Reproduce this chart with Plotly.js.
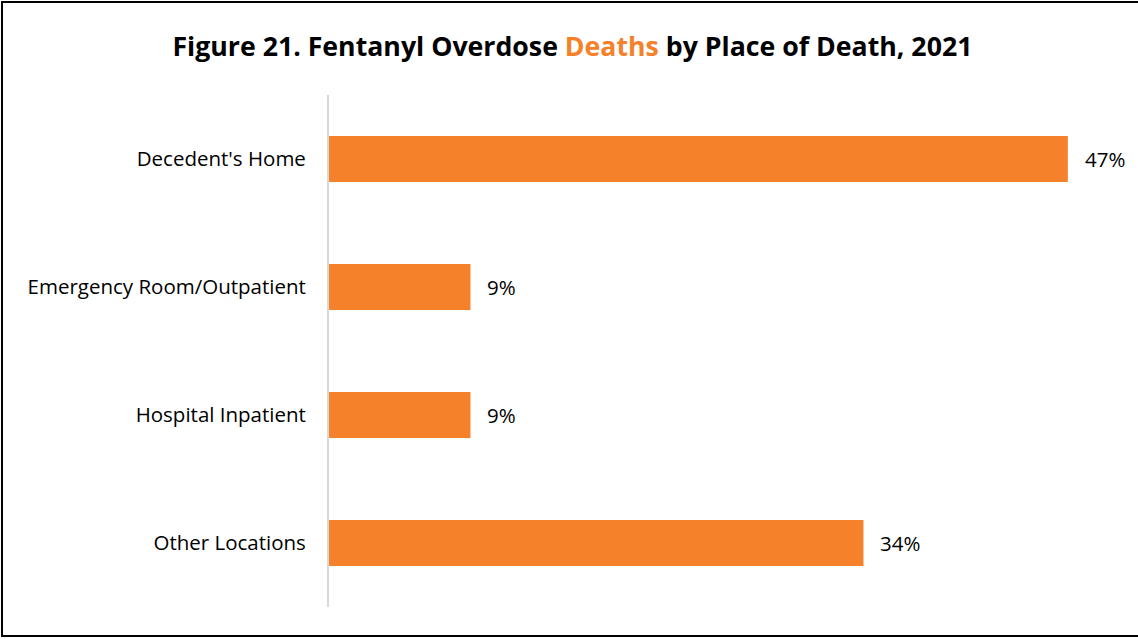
<!DOCTYPE html>
<html>
<head>
<meta charset="utf-8">
<script src="https://cdn.plot.ly/plotly-3.0.1.min.js"></script>
<style>
html,body{margin:0;padding:0;background:#fff;overflow:hidden;}
#wrap{position:relative;width:1138px;height:639px;overflow:hidden;}
#chart{width:1138px;height:639px;}
.ln{position:absolute;background:#000;pointer-events:none;}
</style>
</head>
<body>
<div id="wrap">
  <div id="chart"></div>
  <div class="ln" style="left:1px;top:1px;width:2px;height:636px;"></div>
  <div class="ln" style="left:1px;top:1px;width:1137px;height:2px;"></div>
  <div class="ln" style="left:1px;top:635px;width:1137px;height:2px;"></div>
</div>
<script>
const categories = ["Decedent's Home", "Emergency Room/Outpatient", "Hospital Inpatient", "Other Locations"];
const values = [47, 9, 9, 34];
const valueLabels = ["47%", "9%", "9%", "34%"];

const FONT = "Open Sans, Noto Sans, sans-serif";
const ORANGE = "#f5812b";

const trace = {
  type: 'bar',
  orientation: 'h',
  y: categories,
  x: values,
  marker: {color: ORANGE},
  hoverinfo: 'skip'
};

const annotations = categories.map((c, i) => ({
  x: values[i], y: c, xref: 'x', yref: 'y',
  text: valueLabels[i], showarrow: false,
  xanchor: 'left', xshift: 15,
  font: {family: FONT, size: 20.5, color: '#000'}
}));

const layout = {
  width: 1138, height: 639,
  margin: {l: 329, r: 23, t: 95, b: 32},
  paper_bgcolor: '#fff', plot_bgcolor: '#fff',
  title: {
    text: "<b>Figure 21. Fentanyl Overdose <span style='color:" + ORANGE + "'>Deaths</span> by Place of Death, 2021</b>",
    font: {family: FONT, size: 26.7, color: '#000'},
    x: 0.503, xanchor: 'center', y: 0.927, yanchor: 'middle'
  },
  bargap: 0.64,
  showlegend: false,
  xaxis: {range: [0, 50], visible: false, fixedrange: true},
  yaxis: {
    autorange: false, range: [3.5, -0.5],
    showline: true, linecolor: '#d9d9d9', linewidth: 2,
    showgrid: false, zeroline: false,
    ticks: 'outside', ticklen: 17, tickcolor: 'rgba(0,0,0,0)',
    tickfont: {family: FONT, size: 20.5, color: '#000'}
  },
  annotations: annotations
};

Plotly.newPlot('chart', [trace], layout, {displayModeBar: false, staticPlot: true});
</script>
</body>
</html>
